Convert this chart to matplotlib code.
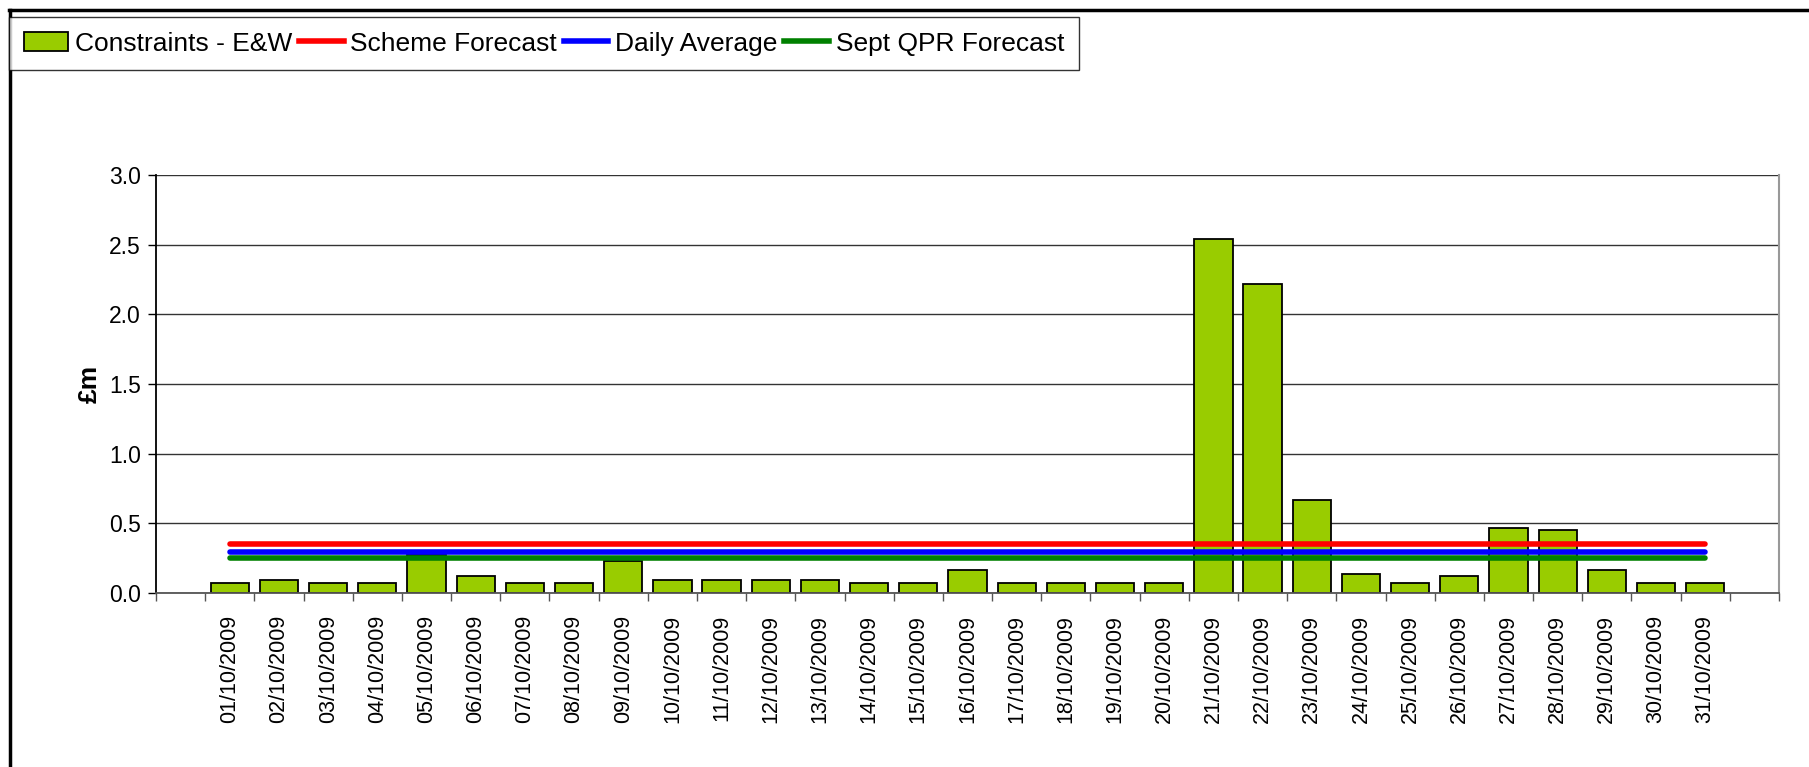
import matplotlib
matplotlib.use('Agg')
import matplotlib.pyplot as plt
from matplotlib.lines import Line2D
from matplotlib.patches import Patch
import numpy as np

plt.rcParams['font.family'] = ['Liberation Sans', 'DejaVu Sans']

# dados (Outubro 2009, £m)
dias = [f'{d:02}/10/2009' for d in range(1, 32)]
constraints = [0.074, 0.09, 0.074, 0.074, 0.27, 0.12, 0.074, 0.074, 0.23, 0.09,
               0.09, 0.09, 0.09, 0.074, 0.074, 0.164, 0.074, 0.074, 0.074, 0.074,
               2.54, 2.22, 0.665, 0.133, 0.074, 0.119, 0.469, 0.455, 0.164, 0.074,
               0.074]
scheme_forecast = 0.354
daily_average = 0.294
sept_qpr_forecast = 0.248

W, H = 1809, 767
fig = plt.figure(figsize=(W / 100, H / 100), dpi=100)
ax = fig.add_axes([156 / W, 1 - 593 / H, (1779 - 156) / W, (593 - 175) / H])

x = np.arange(1, len(dias) + 1)
ax.bar(x, constraints, width=0.78, color='#99CC00', edgecolor='black', linewidth=1.3, zorder=2)

x0, x1 = x[0], x[-1]
ax.plot([x0, x1], [scheme_forecast] * 2, color='#FF0000', lw=4, solid_capstyle='round', zorder=3)
ax.plot([x0, x1], [daily_average] * 2, color='#0000FF', lw=4, solid_capstyle='round', zorder=3)
ax.plot([x0, x1], [sept_qpr_forecast] * 2, color='#008000', lw=4, solid_capstyle='round', zorder=3)

ax.set_xlim(-0.5, len(dias) + 1.5)
ax.set_ylim(0, 3.0)
ax.set_yticks(np.arange(0, 3.01, 0.5))
ax.set_yticklabels([f'{v:.1f}' for v in np.arange(0, 3.01, 0.5)], fontsize=16.5)
ax.yaxis.grid(True, color='#333333', lw=1)
ax.set_axisbelow(True)

# marcas nas fronteiras das categorias, rotulos no centro
ax.set_xticks(np.arange(-0.5, len(dias) + 2, 1.0))
ax.set_xticklabels([])
ax.set_xticks(x, minor=True)
ax.set_xticklabels(dias, minor=True, rotation=90, fontsize=15.5)
ax.tick_params(axis='x', which='minor', length=0, pad=16)
ax.tick_params(axis='x', which='major', length=6, width=1, color='#555555')
ax.tick_params(axis='y', length=6, width=1, pad=5)

ax.spines['top'].set_visible(False)
ax.spines['right'].set_color('#999999')
ax.spines['right'].set_linewidth(1.5)
ax.spines['left'].set_linewidth(1.3)
ax.spines['bottom'].set_color('#555555')
ax.spines['bottom'].set_linewidth(1.3)

ax.set_ylabel('£m', fontsize=19, fontweight='bold', labelpad=5)

handles = [Patch(facecolor='#99CC00', edgecolor='black', linewidth=1.3),
           Line2D([], [], color='#FF0000', lw=4),
           Line2D([], [], color='#0000FF', lw=4),
           Line2D([], [], color='#008000', lw=4)]
labels = ['Constraints - E&W', 'Scheme Forecast', 'Daily Average', 'Sept QPR Forecast']
leg = fig.legend(handles, labels, loc='upper left', bbox_to_anchor=(9 / W, 1 - 17 / H),
                 ncol=4, fontsize=19, frameon=True, fancybox=False,
                 edgecolor='black', handlelength=1.7, handletextpad=0.25, columnspacing=0.25,
                 borderpad=0.55, borderaxespad=0)
leg.get_frame().set_linewidth(1)

# borda externa do grafico
fig.add_artist(Line2D([9 / W, 1.0], [1 - 10 / H, 1 - 10 / H], color='black', lw=2.5))
fig.add_artist(Line2D([10 / W, 10 / W], [0, 1 - 10 / H], color='black', lw=2.5))

fig.savefig('out.png', dpi=100)
